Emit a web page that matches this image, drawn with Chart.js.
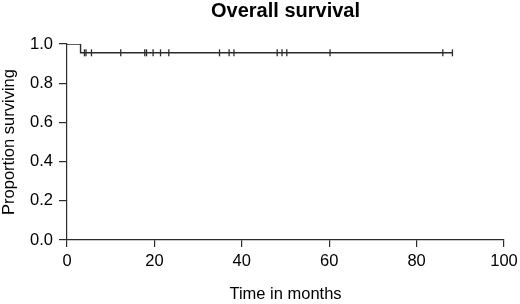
<!DOCTYPE html>
<html>
<head>
<meta charset="utf-8">
<script src="https://cdn.jsdelivr.net/npm/chart.js@4/dist/chart.umd.min.js"></script>
<style>
    html, body { margin: 0; padding: 0; background: #fff; }
</style>
</head>
<body>
<canvas id="km" width="520" height="304"></canvas>
<script>
// Kaplan-Meier curve: times (months) and survival proportion
const curveTimes = [0, 3.1, 88.2];
const curveSurvival = [1.0, 0.955, 0.955];

// Censored observations (months)
const censorTimes = [4.0, 4.35, 5.6, 12.3, 17.8, 18.2, 19.7, 21.4, 23.3,
                     34.9, 37.1, 38.2, 48.1, 49.2, 50.3, 60.2, 86.0, 88.2];
const censorLevel = 0.955;

const xTicks = [0, 20, 40, 60, 80, 100];
const yTicks = [0.0, 0.2, 0.4, 0.6, 0.8, 1.0];

const titleText = 'Overall survival';
const xLabel = 'Time in months';
const yLabel = 'Proportion surviving';

const FONT = '"Liberation Sans", Arial, Helvetica, sans-serif';
const INK = '#2b2b2b';
const LABEL_SIZE = 16.5;

// Title centred over the plot area, like base R graphics
const plotTitle = {
    id: 'plotTitle',
    afterDraw(chart) {
        const { ctx, chartArea } = chart;
        ctx.save();
        ctx.font = 'bold 20px ' + FONT;
        ctx.fillStyle = '#000';
        ctx.textAlign = 'center';
        ctx.textBaseline = 'alphabetic';
        ctx.fillText(titleText, (chartArea.left + chartArea.right) / 2, 17);
        ctx.restore();
    }
};

new Chart(document.getElementById('km'), {
    type: 'scatter',
    data: {
        datasets: [{
            label: 'Survival',
            data: curveTimes.map((t, i) => ({ x: t, y: curveSurvival[i] })),
            showLine: true,
            stepped: true,
            borderColor: INK,
            borderWidth: 1.4,
            pointRadius: 0,
            fill: false
        }, {
            label: 'Censored',
            data: censorTimes.map(t => ({ x: t, y: censorLevel })),
            pointStyle: 'line',
            rotation: 90,
            pointRadius: 3.5,
            borderColor: INK,
            borderWidth: 1.3,
            showLine: false
        }]
    },
    options: {
        responsive: false,
        animation: false,
        layout: { padding: { top: 44, right: 16, left: 0, bottom: 0 } },
        plugins: {
            legend: { display: false },
            tooltip: { enabled: false },
            title: { display: false }
        },
        scales: {
            x: {
                type: 'linear',
                min: 0,
                max: 100,
                afterBuildTicks: scale => { scale.ticks = xTicks.map(v => ({ value: v })); },
                afterFit: scale => {
                    scale.height = 64;
                    // let the last label hang into the right margin, as in the original
                    scale.paddingLeft = 0;
                    scale.paddingRight = 0;
                },
                border: { display: true, color: INK, width: 1.2 },
                grid: { drawOnChartArea: false, drawTicks: true, tickLength: 7, color: INK, lineWidth: 1.2 },
                ticks: { color: '#000', font: { family: FONT, size: LABEL_SIZE }, padding: 5, maxRotation: 0 },
                title: { display: true, text: xLabel, color: '#000', font: { family: FONT, size: LABEL_SIZE }, padding: { top: 8, bottom: 0 } }
            },
            y: {
                type: 'linear',
                min: 0,
                max: 1,
                afterBuildTicks: scale => { scale.ticks = yTicks.map(v => ({ value: v })); },
                afterFit: scale => { scale.width = 67; },
                border: { display: true, color: INK, width: 1.2 },
                grid: { drawOnChartArea: false, drawTicks: true, tickLength: 8, color: INK, lineWidth: 1.2 },
                ticks: { color: '#000', font: { family: FONT, size: LABEL_SIZE }, padding: 6, callback: v => v.toFixed(1) },
                title: { display: true, text: yLabel, color: '#000', font: { family: FONT, size: LABEL_SIZE }, padding: { top: 0, bottom: 2 } }
            }
        }
    },
    plugins: [plotTitle]
});
</script>
</body>
</html>
